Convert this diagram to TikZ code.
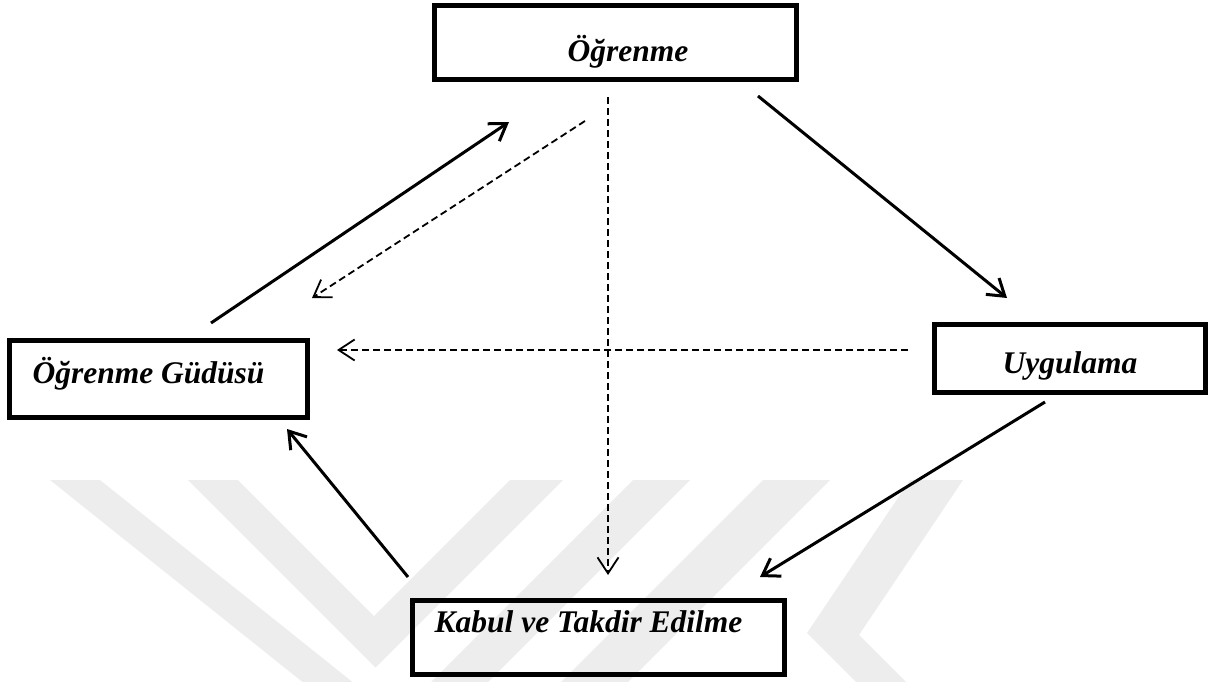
\documentclass[tikz,border=0pt]{standalone}
\usepackage{fontspec}
\setmainfont{Liberation Serif}
\usetikzlibrary{arrows.meta}

\begin{document}
\begin{tikzpicture}[x=1pt,y=-1pt,
  box/.style={draw, line width=5pt, inner sep=0pt},
  lbl/.style={anchor=base, inner sep=0pt,
    font=\fontsize{31.5}{36}\selectfont\bfseries\itshape},
  tipend/.style={-{Straight Barb[length=16pt,width=21pt]}},
  solidarrow/.style={tipend, line width=3pt},
  dasharrow/.style={tipend, line width=1.8pt, dash pattern=on 7pt off 4pt},
  wmark/.style={fill=black!7, draw=none}
]
\useasboundingbox (0,0) rectangle (1211,682);

% faint background emblem
\begin{scope}
  \clip (0,0) rectangle (1211,682);
  \path[wmark] (50,480) -- (100,480) -- (375,700) -- (325,700) -- cycle;
  \path[wmark] (188,480) -- (238,480) -- (374,616) -- (510,480) -- (563,480) -- (375.5,667.5) -- cycle;
  \path[wmark] (633,480) -- (690,480) -- (470,700) -- (413,700) -- cycle;
  \path[wmark] (763,480) -- (830,480) -- (610,700) -- (543,700) -- cycle;
  \path[wmark] (910,480) -- (963,480) -- (859,635) -- (924,700) -- (874,700) -- (807,633) -- cycle;
\end{scope}

% boxes
\node[box, minimum width=362pt, minimum height=74pt] (ogr) at (615.5,42.5) {};
\node[box, minimum width=298pt, minimum height=77pt] (gud) at (158.5,379) {};
\node[box, minimum width=271pt, minimum height=68pt] (uyg) at (1070,358.5) {};
\node[box, minimum width=372pt, minimum height=74pt] (kab) at (598.5,637.5) {};

% labels
\node[lbl] (ogrT) at (628,62) {Öğrenme};
\node[lbl] (gudT) at (148.5,383) {Öğrenme Güdüsü};
\node[lbl] (uygT) at (1070,373) {Uygulama};
\node[lbl] (kabT) at (588.5,632) {Kabul ve Takdir Edilme};

% connector end points
\coordinate (gudA) at (211,323);  \coordinate (ogrA) at (509,122);
\coordinate (ogrB) at (585,121);  \coordinate (gudB) at (312,298);
\coordinate (ogrC) at (608,97);   \coordinate (kabC) at (608,575);
\coordinate (ogrD) at (758,96);   \coordinate (uygD) at (1007,298);
\coordinate (uygE) at (908,350);  \coordinate (gudE) at (337,350);
\coordinate (uygF) at (1045,402); \coordinate (kabF) at (760,577);
\coordinate (kabG) at (408,577);  \coordinate (gudG) at (287,429);

% connectors
\draw[solidarrow] (gudA) -- (ogrA);
\draw[dasharrow]  (ogrB) -- (gudB);
\draw[dasharrow]  (ogrC) -- (kabC);
\draw[solidarrow] (ogrD) -- (uygD);
\draw[dasharrow]  (uygE) -- (gudE);
\draw[solidarrow] (uygF) -- (kabF);
\draw[solidarrow] (kabG) -- (gudG);
\end{tikzpicture}
\end{document}
